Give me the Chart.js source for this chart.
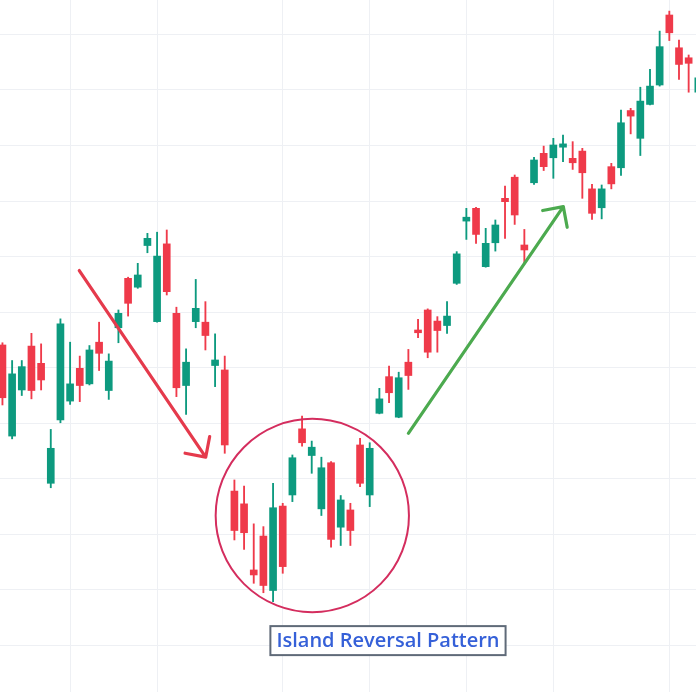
<!DOCTYPE html>
<html>
<head>
<meta charset="utf-8">
<script src="https://cdn.jsdelivr.net/npm/chart.js@4.4.1/dist/chart.umd.min.js"></script>
<style>
    html, body { margin: 0; padding: 0; background: #ffffff; }
    #wrap { width: 696px; height: 692px; }
</style>
</head>
<body>
<div id="wrap"><canvas id="graficoVelas"></canvas></div>
<script>
const opens = [
    154.1, 137.7, 146.0, 153.9, 150.8, 129.2, 140.6, 144.0, 149.9, 147.1,
    154.6, 145.9, 157.2, 166.1, 164.5, 172.0, 158.3, 172.3, 159.8, 146.8,
    158.3, 158.2, 150.4, 149.6, 127.8, 125.5, 113.6, 119.7, 109.9, 125.1,
    127.1, 139.0, 134.2, 124.6, 132.9, 121.3, 124.4, 136.1, 127.1, 141.8,
    148.4, 141.1, 151.0, 156.8, 160.4, 158.4, 157.6, 165.2, 176.4, 178.7,
    168.2, 172.5, 180.5, 184.3, 172.1, 183.3, 188.6, 187.8, 189.7, 187.7,
    189.0, 182.2, 178.8, 186.2, 186.0, 196.3, 191.3, 197.4, 200.9, 213.5,
    207.6, 205.8, 199.6
];
const highs = [
    154.5, 151.3, 151.3, 156.2, 154.3, 138.9, 158.8, 154.6, 152.1, 154.0,
    158.2, 152.5, 160.4, 166.3, 168.8, 174.2, 174.4, 174.8, 160.9, 153.4,
    165.9, 161.9, 156.1, 152.1, 129.8, 128.7, 121.9, 121.4, 129.2, 125.6,
    134.3, 141.3, 136.8, 133.9, 133.1, 127.0, 125.6, 137.3, 136.5, 146.3,
    150.3, 149.2, 153.3, 158.7, 160.6, 159.2, 161.9, 170.9, 178.7, 178.9,
    175.1, 176.6, 182.7, 184.7, 174.9, 187.9, 189.9, 191.3, 191.9, 190.7,
    189.5, 183.0, 182.9, 186.8, 196.4, 196.7, 200.5, 203.7, 210.6, 214.2,
    209.0, 206.3, 202.7
];
const lows = [
    143.3, 137.2, 145.0, 144.4, 146.0, 128.4, 140.1, 143.4, 143.9, 146.9,
    149.5, 144.3, 154.5, 159.3, 164.3, 170.7, 158.2, 163.1, 144.8, 141.6,
    157.2, 153.2, 146.6, 134.6, 119.0, 117.3, 111.2, 109.5, 107.9, 113.0,
    125.9, 135.9, 131.0, 123.4, 117.7, 118.0, 118.0, 128.6, 125.0, 141.7,
    143.7, 141.0, 146.1, 155.4, 151.8, 152.8, 156.2, 165.0, 173.1, 172.4,
    168.1, 171.0, 173.3, 175.8, 168.7, 183.0, 185.5, 184.1, 187.1, 185.7,
    180.5, 176.7, 176.8, 182.2, 184.6, 192.1, 188.2, 197.3, 200.7, 208.9,
    201.9, 199.6, 199.1
];
const closes = [
    144.6, 148.9, 150.2, 145.9, 147.8, 135.5, 157.9, 147.1, 146.8, 153.2,
    152.6, 151.2, 159.8, 161.6, 166.7, 173.3, 170.1, 163.7, 146.4, 151.0,
    160.7, 155.8, 151.4, 136.1, 120.7, 120.3, 112.7, 110.8, 124.8, 114.2,
    133.8, 136.5, 135.7, 132.0, 119.1, 126.2, 120.7, 129.2, 135.5, 144.4,
    145.5, 148.2, 148.6, 156.3, 152.8, 156.7, 159.3, 170.5, 177.1, 174.0,
    172.4, 175.7, 179.9, 177.5, 171.2, 187.4, 186.2, 190.1, 190.3, 186.9,
    185.1, 177.8, 182.2, 183.1, 194.1, 195.3, 198.0, 200.7, 207.8, 210.3,
    204.6, 204.8, 202.2
];

// lineas de la cuadricula
const precioTicks = [100, 110, 120, 130, 140, 150, 160, 170, 180, 190, 200, 210];
const velaTicks = [7, 16, 29, 38, 48, 57, 69];

// anotaciones en coordenadas de datos [vela, precio]
const flechaBajada = [[7.95, 167.5], [21.03, 133.9]];
const flechaSubida = [[42.0, 138.2], [58.03, 179.0]];
const circuloIsla = [32.06, 123.4, 10.0]; // centro vela, centro precio, radio en velas
const etiquetaIsla = [39.89, 99.8];
const textoIsla = "Island Reversal Pattern";

const verde = "#0d9a7f";
const rojo = "#ef3a4a";

const colorVela = (ctx) => {
    const i = ctx.dataIndex;
    return closes[i] >= opens[i] ? verde : rojo;
};

const mechas = opens.map((o, i) => ({ x: i, y: [lows[i], highs[i]] }));
const cuerpos = opens.map((o, i) => ({ x: i, y: [o, closes[i]] }));

function dibujarFlecha(ctx, xs, ys, p, color) {
    const x1 = xs.getPixelForValue(p[0][0]);
    const y1 = ys.getPixelForValue(p[0][1]);
    const x2 = xs.getPixelForValue(p[1][0]);
    const y2 = ys.getPixelForValue(p[1][1]);
    const ang = Math.atan2(y2 - y1, x2 - x1);
    const largo = 21;
    ctx.save();
    ctx.strokeStyle = color;
    ctx.lineWidth = 3.2;
    ctx.lineCap = "round";
    ctx.lineJoin = "round";
    ctx.beginPath();
    ctx.moveTo(x1, y1);
    ctx.lineTo(x2, y2);
    ctx.moveTo(x2 - largo * Math.cos(ang - Math.PI / 4), y2 - largo * Math.sin(ang - Math.PI / 4));
    ctx.lineTo(x2, y2);
    ctx.lineTo(x2 - largo * Math.cos(ang + Math.PI / 4), y2 - largo * Math.sin(ang + Math.PI / 4));
    ctx.stroke();
    ctx.restore();
}

const anotaciones = {
    id: "anotaciones",
    afterDatasetsDraw(chart) {
        const ctx = chart.ctx;
        const xs = chart.scales.x;
        const ys = chart.scales.y;

        dibujarFlecha(ctx, xs, ys, flechaBajada, "#e53a4c");
        dibujarFlecha(ctx, xs, ys, flechaSubida, "#4caa4f");

        // circulo de la isla
        const cx = xs.getPixelForValue(circuloIsla[0]);
        const cy = ys.getPixelForValue(circuloIsla[1]);
        const r = xs.getPixelForValue(circuloIsla[0] + circuloIsla[2]) - cx;
        ctx.save();
        ctx.strokeStyle = "#d42d5e";
        ctx.lineWidth = 2;
        ctx.beginPath();
        ctx.arc(cx, cy, r, 0, Math.PI * 2);
        ctx.stroke();
        ctx.restore();

        // etiqueta
        const lx = xs.getPixelForValue(etiquetaIsla[0]);
        const ly = ys.getPixelForValue(etiquetaIsla[1]);
        ctx.save();
        ctx.font = "600 20px 'Open Sans'";
        const ancho = ctx.measureText(textoIsla).width;
        ctx.fillStyle = "#ffffff";
        ctx.fillRect(lx - ancho / 2 - 6, ly - 20.5, ancho + 12, 29);
        ctx.strokeStyle = "#5f6a78";
        ctx.lineWidth = 2;
        ctx.strokeRect(lx - ancho / 2 - 6, ly - 20.5, ancho + 12, 29);
        ctx.fillStyle = "#3560d8";
        ctx.textAlign = "center";
        ctx.textBaseline = "alphabetic";
        ctx.fillText(textoIsla, lx, ly);
        ctx.restore();
    },
};

const configGraficoVelas = {
    type: "bar",
    data: {
        datasets: [
            {
                label: "Mechas",
                data: mechas,
                backgroundColor: colorVela,
                borderWidth: 0,
                barThickness: 1.2,
                grouped: false,
                order: 2,
            },
            {
                label: "Cuerpos",
                data: cuerpos,
                backgroundColor: colorVela,
                borderWidth: 0,
                barThickness: 7,
                grouped: false,
                order: 1,
            },
        ],
    },
    options: {
        responsive: true,
        maintainAspectRatio: false,
        animation: false,
        layout: { padding: 0 },
        plugins: {
            legend: { display: false },
            tooltip: { enabled: false },
        },
        scales: {
            x: {
                type: "linear",
                offset: false,
                min: -0.2535,
                max: 71.76,
                afterBuildTicks: (scale) => {
                    scale.ticks = velaTicks.map((v) => ({ value: v }));
                },
                ticks: { display: false },
                grid: { color: "#eef0f4", drawTicks: false, offset: false },
                border: { display: false },
            },
            y: {
                min: 91.63,
                max: 216.2,
                afterBuildTicks: (scale) => {
                    scale.ticks = precioTicks.map((v) => ({ value: v }));
                },
                ticks: { display: false },
                grid: { color: "#eef0f4", drawTicks: false },
                border: { display: false },
            },
        },
    },
    plugins: [anotaciones],
};

const chartVelas = new Chart(document.getElementById("graficoVelas"), configGraficoVelas);
</script>
</body>
</html>
